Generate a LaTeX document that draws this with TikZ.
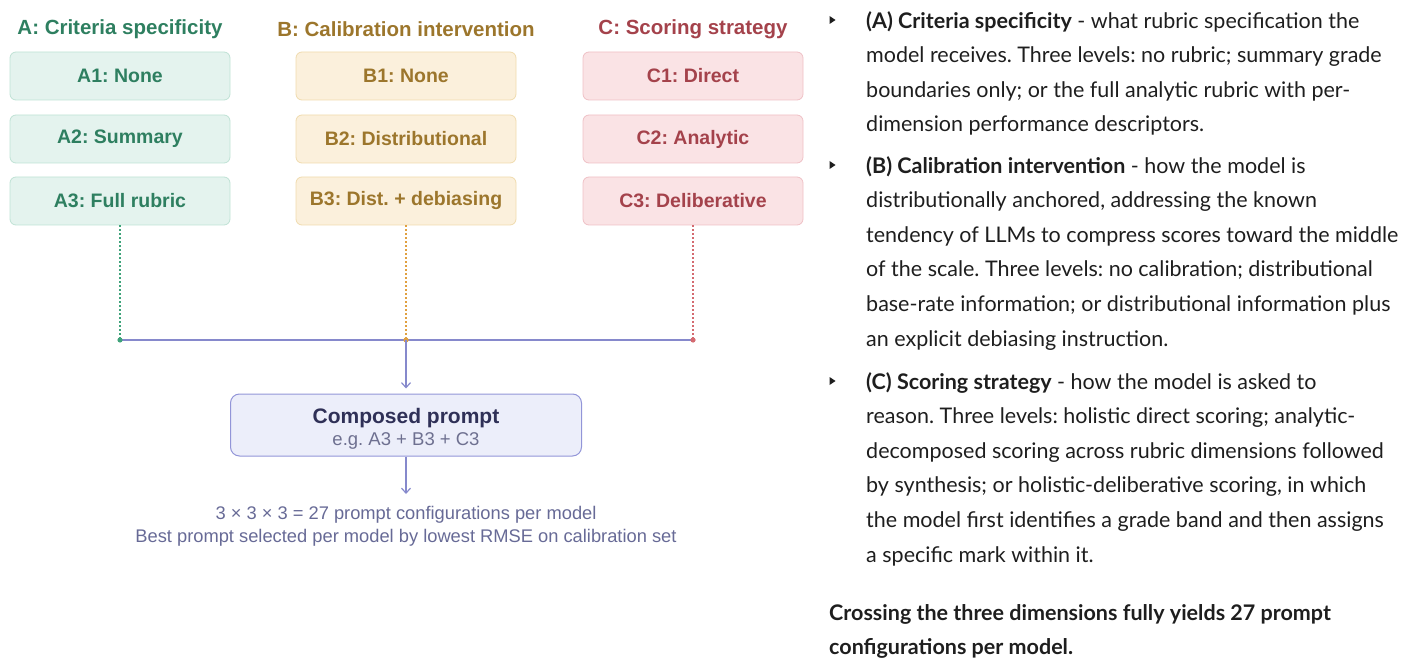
\documentclass[tikz,border=0pt]{standalone}
\usepackage{fontspec}
\setmainfont{Lato}
\newfontfamily\diag{Liberation Sans}
\usetikzlibrary{arrows.meta}
\frenchspacing
\definecolor{gtxt}{HTML}{2E7F60}
\definecolor{gfill}{HTML}{E4F3EE}
\definecolor{gline}{HTML}{BFE2D5}
\definecolor{gdot}{HTML}{3FA37A}
\definecolor{otxt}{HTML}{9C762C}
\definecolor{ofill}{HTML}{FBF0DC}
\definecolor{oline}{HTML}{F0DBAE}
\definecolor{odot}{HTML}{E0A040}
\definecolor{rtxt}{HTML}{A4424B}
\definecolor{rfill}{HTML}{FAE3E5}
\definecolor{rline}{HTML}{EFC0C5}
\definecolor{rdot}{HTML}{D46A70}
\definecolor{ptxt}{HTML}{2F3057}
\definecolor{psub}{HTML}{6E7090}
\definecolor{pfill}{HTML}{ECEEFA}
\definecolor{pline}{HTML}{9295D8}
\definecolor{flow}{HTML}{8689CC}
\definecolor{note}{HTML}{676A96}
\definecolor{body}{HTML}{1E1E1E}
\begin{document}
\frenchspacing
\begin{tikzpicture}[x=1pt,y=-1pt,
  hdr/.style={font=\diag\bfseries\fontsize{20.5}{24}\selectfont, anchor=center},
  optbox/.style={rounded corners=6pt, minimum width=220pt, minimum height=48pt, line width=0.8pt,
     font=\diag\bfseries\fontsize{19.5}{22}\selectfont},
  aopt/.style={optbox, fill=gfill, draw=gline, text=gtxt},
  bopt/.style={optbox, fill=ofill, draw=oline, text=otxt},
  copt/.style={optbox, fill=rfill, draw=rline, text=rtxt},
  dots/.style={line width=1.3pt, dash pattern=on 1.4pt off 2.6pt},
  flowline/.style={draw=flow, line width=1.2pt},
  arr/.style={flowline, -{Straight Barb[length=5pt,width=9pt]}},
  para/.style={anchor=north west, inner sep=0pt, align=left, text=body,
     font=\fontsize{21.5}{34.6}\selectfont},
  bullet/.style={fill=body}
]
\useasboundingbox (0,0) rectangle (1407,660);
% headers
\node[hdr, text=gtxt] (hA) at (120,29) {A: Criteria specificity};
\node[hdr, text=otxt] (hB) at (406,29) {B: Calibration intervention};
\node[hdr, text=rtxt] (hC) at (693,29) {C: Scoring strategy};
% option boxes
\node[aopt] (a1) at (120,76) {A1: None};
\node[aopt] (a2) at (120,139) {A2: Summary};
\node[aopt] (a3) at (120,201) {A3: Full rubric};
\node[bopt] (b1) at (406,76) {B1: None};
\node[bopt] (b2) at (406,139) {B2: Distributional};
\node[bopt] (b3) at (406,201) {B3: Dist. + debiasing};
\node[copt] (c1) at (693,76) {C1: Direct};
\node[copt] (c2) at (693,139) {C2: Analytic};
\node[copt] (c3) at (693,201) {C3: Deliberative};
% junctions
\coordinate (jA) at (120,340);
\coordinate (jB) at (406,340);
\coordinate (jC) at (693,340);
\draw[dots, draw=gdot] (a3.south) -- (jA);
\draw[dots, draw=odot] (b3.south) -- (jB);
\draw[dots, draw=rdot] (c3.south) -- (jC);
\draw[flowline] (jA) -- (jC);
\fill[gdot] (jA) circle (2.6pt);
\fill[odot] (jB) circle (2.6pt);
\fill[rdot] (jC) circle (2.6pt);
% composed prompt
\node[rounded corners=9pt, fill=pfill, draw=pline, line width=1pt, minimum width=351pt, minimum height=62pt, align=center, inner sep=0pt] (prompt) at (406,425)
  {{\diag\bfseries\fontsize{21}{22}\selectfont\color{ptxt}\rule{0pt}{23pt}Composed prompt}\\[3pt]
   {\diag\fontsize{18.5}{19}\selectfont\color{psub}e.g. A3 + B3 + C3}};
\draw[arr, shorten >=5pt] (jB) -- (prompt.north);
\node[align=center, text=note, font=\diag\fontsize{18.3}{23}\selectfont, anchor=north, inner sep=0pt] (res) at (406,506)
  {3 × 3 × 3 = 27 prompt configurations per model\\Best prompt selected per model by lowest RMSE on calibration set};
\draw[arr, shorten >=12pt] (prompt.south) -- (res.north);
% right-hand text
\fill[bullet] (829.5,16) -- (835.5,20) -- (829.5,24) -- cycle;
\fill[bullet] (829.5,161) -- (835.5,165) -- (829.5,169) -- cycle;
\fill[bullet] (829.5,377) -- (835.5,381) -- (829.5,385) -- cycle;
\node[para] (pA) at (866,11)
  {\textbf{(A) Criteria specificity} - what rubric specification the\\
   model receives. Three levels: no rubric; summary grade\\
   boundaries only; or the full analytic rubric with per-\\
   dimension performance descriptors.};
\node[para] (pB) at (866,156)
  {\textbf{(B) Calibration intervention} - how the model is\\
   distributionally anchored, addressing the known\\
   tendency of LLMs to compress scores toward the middle\\
   of the scale. Three levels: no calibration; distributional\\
   base-rate information; or distributional information plus\\
   an explicit debiasing instruction.};
\node[para] (pC) at (866,372)
  {\textbf{(C) Scoring strategy} - how the model is asked to\\
   reason. Three levels: holistic direct scoring; analytic-\\
   decomposed scoring across rubric dimensions followed\\
   by synthesis; or holistic-deliberative scoring, in which\\
   the model first identifies a grade band and then assigns\\
   a specific mark within it.};
\node[para] (pD) at (829,604)
  {\textbf{Crossing the three dimensions fully yields 27 prompt}\\
   \textbf{configurations per model.}};
\end{tikzpicture}
\end{document}
